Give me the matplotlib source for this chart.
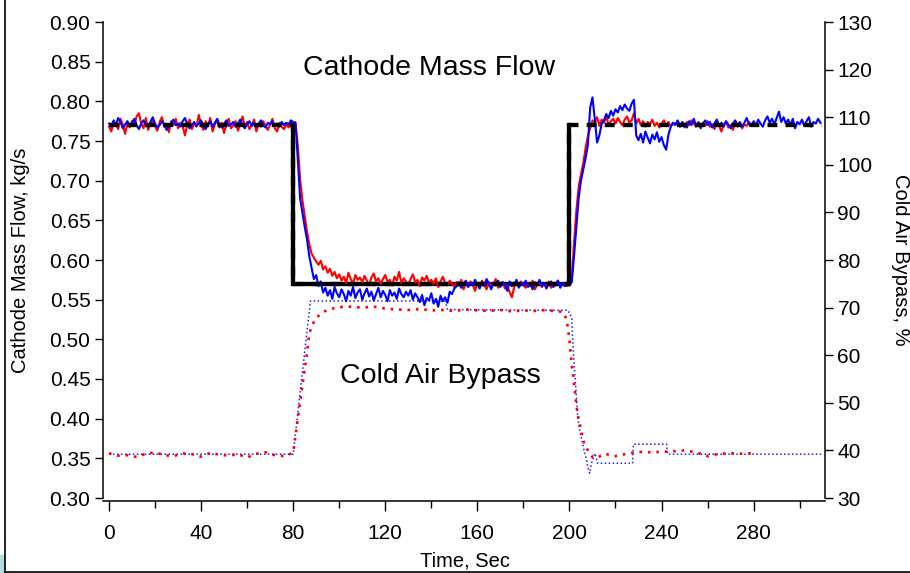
import numpy as np
import matplotlib
matplotlib.use("Agg")
import matplotlib.pyplot as plt
from matplotlib.lines import Line2D
from matplotlib.patches import Rectangle

plt.rcParams['font.family'] = ['Liberation Sans', 'DejaVu Sans']

blue_flow = [
    772, 768, 776, 770, 779, 774, 766, 771, 775, 769,
    773, 778, 770, 765, 772, 776, 771, 768, 774, 780,
    772, 767, 770, 775, 771, 764, 769, 773, 777, 770,
    772, 768, 775, 779, 771, 766, 770, 774, 769, 772,
    776, 770, 765, 771, 775, 768, 773, 778, 770, 767,
    772, 776, 769, 771, 774, 768, 772, 777, 770, 766,
    771, 775, 769, 773, 768, 772, 776, 770, 767, 773,
    771, 775, 769, 772, 768, 774, 770, 773, 771, 776,
    774, 772, 728, 678, 660, 642, 626, 605, 590, 576,
    581, 567, 573, 559, 565, 555, 562, 551, 566, 558,
    553, 563, 557, 548, 561, 555, 566, 552, 559, 563,
    550, 558, 564, 554, 560, 549, 557, 565, 553, 561,
    556, 548, 562, 555, 559, 551, 564, 557, 553, 560,
    555, 562, 550, 558, 553, 547, 556, 543, 552, 549,
    558, 545, 551, 541, 555, 548, 553, 546, 560, 557,
    564, 567, 572, 565, 570, 574, 566, 571, 568, 575,
    569, 564, 572, 567, 576, 570, 563, 571, 568, 574,
    566, 572, 569, 561, 573, 567, 570, 575, 565, 571,
    568, 574, 566, 570, 563, 572, 568, 575, 567, 571,
    564, 570, 573, 566, 569, 574, 565, 571, 567, 569,
    568, 572, 605, 642, 678, 700, 714, 728, 745, 792,
    805, 778, 748, 757, 772, 776, 784, 779, 788, 782,
    790, 786, 794, 789, 796, 791, 788, 797, 802, 757,
    751, 759, 748, 762, 754, 747, 758, 752, 761, 749,
    755, 745, 739, 758, 768, 773, 770, 776, 768, 774,
    771, 767, 775, 770, 778, 769, 773, 766, 772, 776,
    770, 774, 767, 772, 777, 769, 773, 768, 775, 771,
    766, 772, 776, 770, 774, 768, 773, 779, 771, 769,
    775, 770, 777, 772, 768, 776, 781, 773, 778, 771,
    779, 787, 774, 780, 772, 777, 770, 778, 766, 774,
    771, 777, 769, 775, 780, 768, 774, 772, 778, 773,
]

red_flow = [
    768, 762, 774, 770, 765, 778, 771, 759, 773, 767,
    775, 770, 781, 785, 772, 766, 779, 764, 771, 776,
    769, 763, 774, 780, 768, 772, 761, 775, 770, 778,
    766, 773, 769, 757, 771, 777, 765, 772, 768, 783,
    770, 764, 775, 769, 779, 762, 771, 776, 767, 773,
    760, 772, 778, 766, 770, 775, 763, 771, 781, 768,
    774, 765, 770, 777, 762, 772, 768, 775, 769, 764,
    771, 778, 766, 762, 773, 768, 765, 771, 767, 773,
    770, 774, 745, 702, 676, 656, 636, 620, 608, 603,
    598, 594, 599, 588, 592, 584, 589, 580, 585, 577,
    582, 574, 579, 571, 584, 576, 570, 581, 575, 578,
    572, 580, 574, 569, 578, 583, 573, 577, 570, 576,
    581, 572, 575, 568, 579, 574, 585, 571, 577, 573,
    569, 576, 582, 572, 575, 567, 578, 574, 580, 571,
    575, 570, 577, 566, 573, 579, 571, 568, 574, 570,
    566, 572, 568, 575, 563, 570, 567, 573, 569, 561,
    571, 566, 574, 569, 563, 572, 567, 570, 576, 565,
    569, 572, 564, 568, 560, 553, 566, 571, 567, 573,
    568, 565, 571, 567, 574, 563, 569, 572, 566, 570,
    567, 573, 565, 570, 568, 574, 566, 569, 571, 567,
    569, 576, 622, 662, 692, 708, 722, 741, 756, 766,
    776, 772, 780, 769, 777, 773, 781, 770, 775, 778,
    772, 779, 774, 770, 777, 781, 773, 776, 785, 772,
    778, 770, 775, 768, 774, 771, 777, 769, 773, 767,
    772, 776, 770, 774, 768, 773, 771, 775, 769, 772,
    767, 774, 770, 776, 772, 768, 774, 770, 773, 769,
    775, 768, 771, 765, 773, 769, 762, 771, 774, 767,
    770, 764, 772, 768, 773, 766, 771, 769, 774, 770,
]

# mass flow set point, kg/s
setpoint_t = [0, 80, 80, 200, 200, 309.5]
setpoint = [0.77, 0.77, 0.57, 0.57, 0.77, 0.77]

# cold air bypass valve, %
red_bypass_t = [0, 4, 8, 12, 16, 20, 24, 28, 32, 36, 40, 44, 48, 52, 56, 60, 64, 68,
                72, 76, 79, 80, 81, 82, 83, 84, 85, 86, 87, 88, 89, 90, 92, 94, 96,
                100, 105, 110, 115, 120, 125, 130, 135, 140, 145, 150, 155, 160, 165,
                170, 175, 180, 185, 190, 195, 197, 198, 199, 200, 201, 202, 203, 204,
                205, 206, 207, 208, 209, 210, 212, 215, 220, 225, 230, 235, 240, 245,
                250, 255, 260, 265, 270, 275, 279]
red_bypass = [39.4, 38.9, 39.0, 38.6, 39.3, 39.6, 39.0, 38.8, 39.4, 39.2, 38.7, 39.5,
              39.1, 38.9, 39.2, 38.5, 39.3, 39.6, 39.0, 38.8, 39.3, 39.5, 43.0, 46.5,
              50.0, 53.5, 57.0, 60.5, 64.5, 66.0, 67.0, 67.8, 68.7, 69.3, 69.7, 70.1,
              70.2, 70.0, 70.2, 69.8, 69.6, 69.5, 69.7, 69.4, 69.5, 69.3, 69.6, 69.4,
              69.3, 69.5, 69.2, 69.4, 69.3, 69.5, 69.2, 69.1, 68.5, 66.8, 63.2, 58.0,
              54.0, 49.5, 46.5, 44.5, 42.0, 41.0, 40.0, 39.3, 38.6, 38.4, 39.3, 38.8,
              39.3, 39.7, 39.6, 39.7, 39.8, 40.0, 39.6, 38.8, 39.3, 39.4, 39.3, 39.4]

blue_bypass_t = [0, 80, 87.5, 146, 147, 197, 199.2, 201, 201.4, 202.3, 203.1, 203.6,
                 204.4, 205.7, 206.6, 207.5, 207.9, 208.8, 209.6, 211, 211.4, 212.2,
                 227.4, 227.8, 242.2, 242.6, 310]
blue_bypass = [39.2, 39.2, 71.4, 71.4, 69.6, 69.4, 69.5, 68.0, 63.2, 56.3, 50.6, 47.0,
               44.3, 41.5, 39.4, 38.0, 36.5, 35.2, 37.3, 39.4, 38.9, 37.3,
               37.3, 41.3, 41.3, 39.2, 39.2]

t_blue = np.arange(len(blue_flow))
t_red = np.arange(len(red_flow))

fig = plt.figure(figsize=(9.1, 5.73), dpi=100)
ax = fig.add_axes([103 / 910, 75 / 573, 722 / 910, 476 / 573])
ax2 = ax.twinx()

# bypass traces (right axis) sit behind the flow traces
ax2.plot(blue_bypass_t, blue_bypass, color='#2020ff', lw=1.1, linestyle=(0, (1, 1.6)))
ax2.plot(red_bypass_t, red_bypass, color='#ff0000', lw=1.9, linestyle=(0, (1, 2.2)))
ax.set_zorder(ax2.get_zorder() + 1)
ax.patch.set_visible(False)

# set point: solid under the low step, dashed on top everywhere
ax.plot(setpoint_t[1:5], setpoint[1:5], color='black', lw=3.1,
        solid_joinstyle='miter', zorder=1)
ax.plot(t_red, np.array(red_flow) / 1000, color='#ff0000', lw=1.5, zorder=2)
ax.plot(t_blue, np.array(blue_flow) / 1000, color='#0000ff', lw=1.5, zorder=3)
ax.plot(setpoint_t, setpoint, color='black', lw=3.1, linestyle=(0, (2.3, 1.9)),
        dash_capstyle='butt', zorder=4)

ax.set_xlim(-2.6, 311)
ax.set_ylim(0.30, 0.90)
ax2.set_ylim(30, 130)

ax.set_xticks(np.arange(0, 281, 40))
ax.set_xticks(np.arange(20, 301, 40), minor=True)
ax.set_yticks(np.arange(0.30, 0.901, 0.05))
ax.set_yticklabels([f'{v:.2f}' for v in np.arange(0.30, 0.901, 0.05)])
ax2.set_yticks(np.arange(30, 131, 10))

for a in (ax, ax2):
    a.spines['top'].set_visible(False)
    for s in a.spines.values():
        s.set_linewidth(1.1)
ax.spines['right'].set_visible(False)
ax2.spines['left'].set_visible(False)
ax2.spines['bottom'].set_visible(False)
ax.spines['bottom'].set_position(('outward', 2))

ax.tick_params(axis='both', which='major', direction='out', length=6, width=1,
               labelsize=15, pad=3)
ax.tick_params(axis='x', which='major', length=7, pad=10)
ax.tick_params(axis='x', which='minor', direction='out', length=5, width=1)
ax2.tick_params(axis='y', direction='out', length=6, width=1, labelsize=15, pad=3)

ax.set_xlabel('Time, Sec', fontsize=14.5, va='center')
ax.xaxis.set_label_coords(0.501, -0.132)
ax.set_ylabel('Cathode Mass Flow, kg/s', fontsize=14.5, va='center')
ax.yaxis.set_label_coords(-0.114, 0.5)
ax2.set_ylabel('Cold Air Bypass, %', fontsize=14.5, rotation=270, va='center')
ax2.yaxis.set_label_coords(1.105, 0.5)

ax.text(139, 0.842, 'Cathode Mass Flow', fontsize=20.5, ha='center', va='center')
ax.text(144, 0.454, 'Cold Air Bypass', fontsize=20.5, ha='center', va='center')

# screenshot frame around the figure
fig.add_artist(Line2D([4.5 / 910, 4.5 / 910], [0, 1], color='black', lw=1.2,
                      transform=fig.transFigure))
fig.add_artist(Line2D([4.5 / 910, 1], [1.5 / 573, 1.5 / 573], color='black', lw=1.2,
                      transform=fig.transFigure))
fig.add_artist(Rectangle((0, 0), 4 / 910, 18 / 573, color='#b4dcdc',
                         transform=fig.transFigure))

fig.savefig('out.png', dpi=100)
